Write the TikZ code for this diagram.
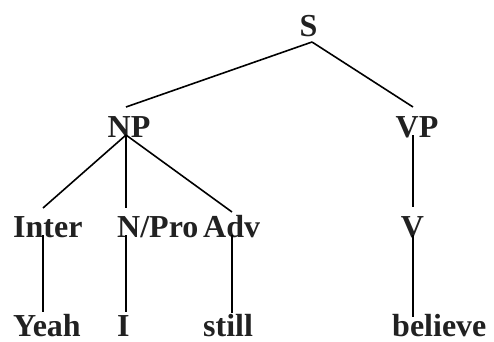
\documentclass[tikz,border=0pt]{standalone}
\usepackage{fontspec}
\setmainfont{Liberation Serif}
\newfontfamily\treefont{Liberation Serif Bold}
\begin{document}
\begin{tikzpicture}[x=1pt,y=1pt,
  lbl/.style={inner sep=0pt,text=black!87,font=\treefont\fontsize{32}{38}\selectfont},
  edge/.style={line width=1.6pt,black}]
\useasboundingbox (0,0) rectangle (494,341);
% labels (y = 341 - image y)
\node[lbl,anchor=base] (S) at (308.5,305) {S};
\node[lbl,anchor=base] (NP) at (129,204) {NP};
\node[lbl,anchor=base] (VP) at (417,204) {VP};
\node[lbl,anchor=base west] (Inter) at (13,104) {Inter};
\node[lbl,anchor=base west] (NPro) at (117,104) {N/Pro};
\node[lbl,anchor=base west] (Adv) at (203,104) {Adv};
\node[lbl,anchor=base] (V) at (412.5,104) {V};
\node[lbl,anchor=base west] (Yeah) at (13,5) {Yeah};
\node[lbl,anchor=base west] (I) at (117,5) {I};
\node[lbl,anchor=base west] (still) at (203,5) {still};
\node[lbl,anchor=base west] (believe) at (392,5) {believe};
% connector end points
\coordinate (S-b) at (312,299);
\coordinate (NP-t) at (126,234);
\coordinate (VP-t) at (413,234);
\coordinate (NP-b) at (126,206);
\coordinate (VP-b) at (413,206);
\coordinate (Inter-t) at (43,133);
\coordinate (NPro-t) at (126,133);
\coordinate (Adv-t) at (232,129);
\coordinate (V-t) at (413,134);
\coordinate (Inter-b) at (43,106);
\coordinate (NPro-b) at (126,106);
\coordinate (Adv-b) at (232,106);
\coordinate (V-b) at (413,106);
\coordinate (Yeah-t) at (43,29);
\coordinate (I-t) at (126,29);
\coordinate (still-t) at (232,28);
\coordinate (believe-t) at (413,24);
% connectors
\draw[edge] (S-b) -- (NP-t);
\draw[edge] (S-b) -- (VP-t);
\draw[edge] (NP-b) -- (Inter-t);
\draw[edge] (NP-b) -- (NPro-t);
\draw[edge] (NP-b) -- (Adv-t);
\draw[edge] (VP-b) -- (V-t);
\draw[edge] (Inter-b) -- (Yeah-t);
\draw[edge] (NPro-b) -- (I-t);
\draw[edge] (Adv-b) -- (still-t);
\draw[edge] (V-b) -- (believe-t);
\end{tikzpicture}
\end{document}
